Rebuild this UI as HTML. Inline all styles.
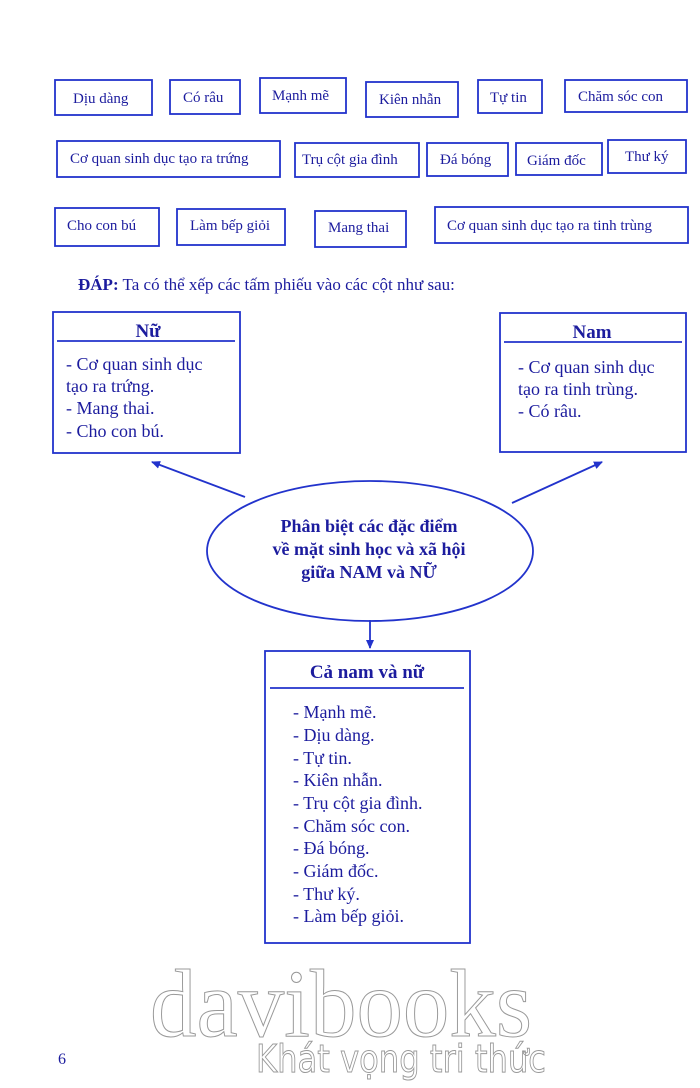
<!DOCTYPE html>
<html><head><meta charset="utf-8"><style>
html,body{margin:0;padding:0;background:#fff;}
svg{display:block}
text{font-family:"Liberation Serif",serif;fill:#1c1c9e;}
.b{fill:none;stroke:#2233cc;stroke-width:1.8}
</style></head><body>
<svg width="700" height="1088" viewBox="0 0 700 1088" xmlns="http://www.w3.org/2000/svg">
<defs><marker id="a" markerWidth="10" markerHeight="10" refX="8" refY="5" orient="auto" markerUnits="userSpaceOnUse"><path d="M0,1 L9,5 L0,9 Z" fill="#2233cc"/></marker></defs>
<g font-size="15">
<rect class="b" x="55" y="80" width="97" height="35"/><text x="73" y="103">Dịu dàng</text>
<rect class="b" x="170" y="80" width="70" height="34"/><text x="183" y="102">Có râu</text>
<rect class="b" x="260" y="78" width="86" height="35"/><text x="272" y="100">Mạnh mẽ</text>
<rect class="b" x="366" y="82" width="92" height="35"/><text x="379" y="104">Kiên nhẫn</text>
<rect class="b" x="478" y="80" width="64" height="33"/><text x="490" y="102">Tự tin</text>
<rect class="b" x="565" y="80" width="122" height="32"/><text x="578" y="101">Chăm sóc con</text>
<rect class="b" x="57" y="141" width="223" height="36"/><text x="70" y="163">Cơ quan sinh dục tạo ra trứng</text>
<rect class="b" x="295" y="143" width="124" height="34"/><text x="302" y="164">Trụ cột gia đình</text>
<rect class="b" x="427" y="143" width="81" height="33"/><text x="440" y="164">Đá bóng</text>
<rect class="b" x="516" y="143" width="86" height="32"/><text x="527" y="165">Giám đốc</text>
<rect class="b" x="608" y="140" width="78" height="33"/><text x="625" y="161">Thư ký</text>
<rect class="b" x="55" y="208" width="104" height="38"/><text x="67" y="230">Cho con bú</text>
<rect class="b" x="177" y="209" width="108" height="36"/><text x="190" y="230">Làm bếp giỏi</text>
<rect class="b" x="315" y="211" width="91" height="36"/><text x="328" y="232">Mang thai</text>
<rect class="b" x="435" y="207" width="253" height="36"/><text x="447" y="230">Cơ quan sinh dục tạo ra tinh trùng</text>
</g>
<text x="78" y="290" font-size="17"><tspan font-weight="bold">ĐÁP:</tspan> Ta có thể xếp các tấm phiếu vào các cột như sau:</text>

<rect class="b" x="53" y="312" width="187" height="141"/>
<line class="b" x1="57" y1="341" x2="235" y2="341"/>
<text x="148" y="337" font-size="19" font-weight="bold" text-anchor="middle">Nữ</text>
<g font-size="18"><text x="66" y="370">- Cơ quan sinh dục</text><text x="66" y="392">tạo ra trứng.</text><text x="66" y="414">- Mang thai.</text><text x="66" y="437">- Cho con bú.</text></g>

<rect class="b" x="500" y="313" width="186" height="139"/>
<line class="b" x1="504" y1="342" x2="682" y2="342"/>
<text x="592" y="338" font-size="19" font-weight="bold" text-anchor="middle">Nam</text>
<g font-size="18"><text x="518" y="373">- Cơ quan sinh dục</text><text x="518" y="395">tạo ra tinh trùng.</text><text x="518" y="417">- Có râu.</text></g>

<line class="b" x1="245" y1="497" x2="152" y2="462" marker-end="url(#a)"/>
<line class="b" x1="512" y1="503" x2="602" y2="462" marker-end="url(#a)"/>
<line class="b" x1="370" y1="620" x2="370" y2="648" marker-end="url(#a)"/>

<ellipse class="b" cx="370" cy="551" rx="163" ry="70"/>
<g font-size="18" font-weight="bold" text-anchor="middle"><text x="369" y="532">Phân biệt các đặc điểm</text><text x="369" y="555">về mặt sinh học và xã hội</text><text x="369" y="578">giữa NAM và NỮ</text></g>

<rect class="b" x="265" y="651" width="205" height="292"/>
<line class="b" x1="270" y1="688" x2="464" y2="688"/>
<text x="367" y="678" font-size="19" font-weight="bold" text-anchor="middle">Cả nam và nữ</text>
<g font-size="18"><text x="293" y="718">- Mạnh mẽ.</text><text x="293" y="741">- Dịu dàng.</text><text x="293" y="764">- Tự tin.</text><text x="293" y="786">- Kiên nhẫn.</text><text x="293" y="809">- Trụ cột gia đình.</text><text x="293" y="832">- Chăm sóc con.</text><text x="293" y="854">- Đá bóng.</text><text x="293" y="877">- Giám đốc.</text><text x="293" y="900">- Thư ký.</text><text x="293" y="922">- Làm bếp giỏi.</text></g>

<text x="150" y="1036" font-size="96" textLength="382" lengthAdjust="spacingAndGlyphs" style="fill:none;stroke:#999;stroke-width:1">davibooks</text>
<text x="256" y="1072" font-size="38" textLength="290" lengthAdjust="spacingAndGlyphs" style="fill:none;stroke:#999;stroke-width:1;font-family:'DejaVu Sans',sans-serif">Khát vọng tri thức</text>
<text x="58" y="1064" font-size="16">6</text>
</svg>
</body></html>
